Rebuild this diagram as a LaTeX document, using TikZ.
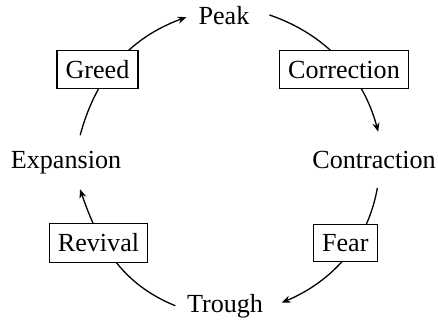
\documentclass[tikz,border=0pt]{standalone}
\usepackage{fontspec}
\setmainfont{Liberation Serif}
\usetikzlibrary{arrows.meta}
\begin{document}
\begin{tikzpicture}[x=0.383pt,y=0.383pt,
  lbl/.style={inner sep=3.33pt},
  stage/.style={draw,fill=white,inner xsep=3.33pt,inner ysep=3.9pt,line width=0.45pt},
  conn/.style={-{Stealth[length=3.4pt,width=2.7pt]},line width=0.5pt}]
\useasboundingbox (0,0) rectangle (438,322);
\node[lbl,anchor=base] (Peak) at (224,297) {Peak};
\node[lbl,anchor=base] (Trough) at (225,9) {Trough};
\node[lbl,anchor=base] (Expansion) at (66,153.7) {Expansion};
\node[lbl,anchor=base] (Contraction) at (374,153.7) {Contraction};
\draw[conn,shorten <=4.4pt,shorten >=4pt] (Peak.8) to[out=-19,in=105] (Contraction.69);
\draw[conn,shorten <=4pt,shorten >=4pt] (Contraction.-74) to[out=-100,in=23] (Trough.east);
\draw[conn,shorten <=1pt,shorten >=2.5pt] (Trough.west) to[out=158,in=-71] (Expansion.-60);
\draw[conn,shorten <=2.6pt,shorten >=1.2pt] (Expansion.59) to[out=75,in=200] (Peak.west);
\node[stage] (Greed) at (97.5,252.5) {Greed};
\node[stage] (Correction) at (344,252.5) {Correction};
\node[stage] (Fear) at (345.3,79) {Fear};
\node[stage] (Revival) at (98.5,79) {Revival};
\end{tikzpicture}
\end{document}
